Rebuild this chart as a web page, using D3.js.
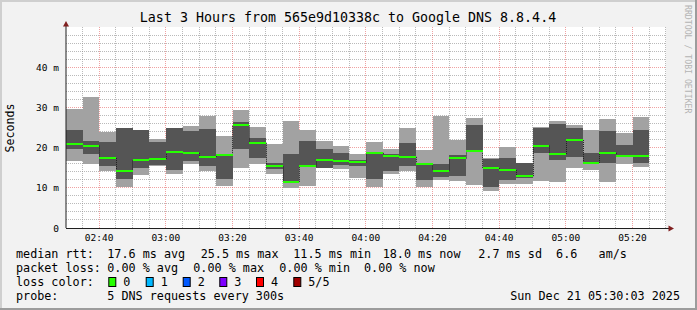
<!DOCTYPE html>
<html><head><meta charset="utf-8">
<script src="https://cdn.jsdelivr.net/npm/d3@7"></script>
<style>body{margin:0;background:#f2f2f2}svg{display:block}</style>
</head><body><svg id="c" width="697" height="310"></svg>
<script>
// ---- data (5-minute slots, start time of each slot) ----
const slots = ["02:30","02:35","02:40","02:45","02:50","02:55","03:00","03:05","03:10","03:15","03:20","03:25",
  "03:30","03:35","03:40","03:45","03:50","03:55","04:00","04:05","04:10","04:15","04:20","04:25",
  "04:30","04:35","04:40","04:45","04:50","04:55","05:00","05:05","05:10","05:15","05:20"];
// sorted pings (ms): max, 4th, median, 2nd, min
const maxVals    = [29.6,32.7,23.9,25.0,24.4,22.1,25.0,25.4,27.9,22.9,29.4,25.2,20.9,26.6,24.4,21.6,20.4,18.4,21.5,19.7,24.9,19.4,27.9,21.9,27.4,17.3,20.2,16.1,25.1,26.6,25.6,24.4,27.1,23.7,27.7];
const p4Vals     = [24.4,21.6,21.4,24.9,24.4,21.5,24.8,24.1,24.6,18.3,26.4,22.3,16.1,18.4,21.6,19.7,18.7,16.8,19.0,18.4,21.2,16.0,15.9,18.2,25.6,17.1,17.3,16.1,24.9,25.9,24.9,18.7,24.1,20.6,24.4];
const medianVals = [21.0,20.5,17.4,14.3,16.9,17.2,19.0,18.7,17.7,18.2,25.5,21.2,15.3,11.5,15.3,16.9,16.7,16.3,18.7,17.9,17.7,15.8,14.3,17.3,19.2,14.9,14.4,12.9,20.5,18.4,21.9,16.2,18.7,18.0,18.0];
const p2Vals     = [19.7,18.4,15.4,12.1,14.9,15.7,14.4,16.7,15.3,12.1,19.7,17.5,14.7,11.2,15.2,15.0,15.6,15.4,12.1,14.2,15.4,11.9,12.8,12.9,18.8,10.3,11.9,12.4,18.6,16.9,17.7,16.0,16.2,17.7,16.2];
const minVals    = [16.7,15.8,14.3,10.3,13.3,15.3,13.4,15.8,14.3,10.5,15.0,15.8,13.5,10.0,10.5,15.0,14.8,12.5,10.3,13.4,14.3,10.3,11.9,11.8,10.7, 9.3,10.9,11.0,11.6,11.4,15.0,14.4,11.4,15.9,15.2];
const yTicks = [0,10,20,30,40];
const yTickLabels = ["0","10 m","20 m","30 m","40 m"];
const xTickLabels = ["02:40","03:00","03:20","03:40","04:00","04:20","04:40","05:00","05:20"];
const lossLabels = ["0","1","2","3","4","5/5"];
const lossColors = ["#26ff00","#00b8ff","#0059ff","#7e00ff","#ff0000","#a00000"];

const toMin = s => { const [h,m] = s.split(":").map(Number); return h*60+m; };
const svg = d3.select("#c");
const W = 697, H = 310;
const mono = "DejaVu Sans Mono";

// background & frame
svg.append("rect").attr("width",W).attr("height",H).attr("fill","#f2f2f2");
svg.append("rect").attr("x",0).attr("y",0).attr("width",W).attr("height",2).attr("fill","#cfcfcf");
svg.append("rect").attr("x",0).attr("y",0).attr("width",2).attr("height",H).attr("fill","#cfcfcf");
svg.append("rect").attr("x",0).attr("y",H-2).attr("width",W).attr("height",2).attr("fill","#9c9c9c");
svg.append("rect").attr("x",W-2).attr("y",0).attr("width",2).attr("height",H).attr("fill","#9c9c9c");

const x0 = toMin("02:30")+0.05, x1 = toMin("05:30")+0.05;
const x = d3.scaleLinear().domain([x0,x1]).range([66,666]);
const y = d3.scaleLinear().domain([0,50]).range([228,27]);

// canvas
svg.append("rect").attr("x",66).attr("y",27).attr("width",600).attr("height",201).attr("fill","#ffffff");

// grid (below data)
const grid = svg.append("g");
const minorY = d3.range(2,50,2).filter(v=>v%10!==0);
grid.selectAll("line.hy").data(minorY).join("line")
  .attr("x1",66).attr("x2",666).attr("y1",v=>Math.floor(y(v))+0.5).attr("y2",v=>Math.floor(y(v))+0.5)
  .attr("stroke","rgba(140,140,140,0.6)").attr("stroke-dasharray","1,1");
const minorX = d3.range(toMin("02:35"),toMin("05:30")+1,5).filter(m=>m%20!==0);
grid.selectAll("line.vx").data(minorX).join("line")
  .attr("x1",m=>Math.floor(x(m))+0.5).attr("x2",m=>Math.floor(x(m))+0.5).attr("y1",27).attr("y2",228)
  .attr("stroke","rgba(140,140,140,0.6)").attr("stroke-dasharray","1,1");
grid.selectAll("line.my").data(yTicks.slice(1)).join("line")
  .attr("x1",66).attr("x2",666).attr("y1",v=>Math.floor(y(v))+0.5).attr("y2",v=>Math.floor(y(v))+0.5)
  .attr("stroke","rgba(225,70,70,0.5)").attr("stroke-dasharray","1,1");
grid.selectAll("line.mx").data(xTickLabels).join("line")
  .attr("x1",s=>Math.floor(x(toMin(s)))+0.5).attr("x2",s=>Math.floor(x(toMin(s)))+0.5).attr("y1",27).attr("y2",228)
  .attr("stroke","rgba(225,70,70,0.5)").attr("stroke-dasharray","1,1");

const plot = svg.append("g");
svg.append("clipPath").attr("id","pc").append("rect").attr("x",66).attr("y",27).attr("width",600).attr("height",201);
plot.attr("clip-path","url(#pc)");

const idx = d3.range(slots.length);
const bx = i => x(toMin(slots[i]));
const bx2 = i => x(toMin(slots[i])+5);

// smoke: outer band (min..max) and inner band (2nd..4th)
plot.selectAll("rect.outer").data(idx).join("rect")
  .attr("x",i=>bx(i)).attr("width",i=>bx2(i)-bx(i))
  .attr("y",i=>y(maxVals[i])).attr("height",i=>y(minVals[i])-y(maxVals[i]))
  .attr("fill","#a2a2a2").attr("shape-rendering","crispEdges");
plot.selectAll("rect.inner").data(idx).join("rect")
  .attr("x",i=>bx(i)).attr("width",i=>bx2(i)-bx(i))
  .attr("y",i=>y(p4Vals[i])).attr("height",i=>y(p2Vals[i])-y(p4Vals[i]))
  .attr("fill","#555555").attr("shape-rendering","crispEdges");

// median connectors
plot.selectAll("line.conn").data(idx.slice(1)).join("line")
  .attr("x1",i=>Math.round(bx(i))+0.5).attr("x2",i=>Math.round(bx(i))+0.5)
  .attr("y1",i=>y(medianVals[i-1])).attr("y2",i=>y(medianVals[i]))
  .attr("stroke","#202020").attr("stroke-width",1).attr("stroke-dasharray","1,1");
// median
plot.selectAll("line.med").data(idx).join("line")
  .attr("x1",i=>bx(i)).attr("x2",i=>bx2(i))
  .attr("y1",i=>Math.round(y(medianVals[i]))).attr("y2",i=>Math.round(y(medianVals[i])))
  .attr("stroke",lossColors[0]).attr("stroke-width",2).attr("shape-rendering","crispEdges");

// axes
svg.append("line").attr("x1",66).attr("x2",66).attr("y1",228).attr("y2",24).attr("stroke","#1f1f1f");
svg.append("line").attr("x1",66).attr("x2",670).attr("y1",228.5).attr("y2",228.5).attr("stroke","#1f1f1f");
svg.append("path").attr("d","M66,21 L63,26.5 L69,26.5 Z").attr("fill","#801f1f");
svg.append("path").attr("d","M674,228.5 L668.5,225.5 L668.5,231.5 Z").attr("fill","#801f1f");

// tick labels
svg.selectAll("text.yl").data(yTicks).join("text")
  .attr("x",59).attr("y",v=>y(v)+3.5).attr("text-anchor","end")
  .attr("font-family",mono).attr("font-size","9.5px").attr("fill","#000")
  .text((v,i)=>yTickLabels[i]);
svg.selectAll("text.xl").data(xTickLabels).join("text")
  .attr("x",s=>x(toMin(s))).attr("y",241).attr("text-anchor","middle")
  .attr("font-family",mono).attr("font-size","9.5px").attr("fill","#000")
  .text(s=>s);

// title
svg.append("text").attr("x",348).attr("y",22).attr("text-anchor","middle")
  .attr("font-family",mono).attr("font-size","13.3px").attr("fill","#000")
  .text("Last 3 Hours from 565e9d10338c to Google DNS 8.8.4.4");
// y label
svg.append("text").attr("transform","translate(14,128) rotate(-90)").attr("text-anchor","middle")
  .attr("font-family",mono).attr("font-size","11.6px").attr("fill","#000").text("Seconds");
// watermark
svg.append("text").attr("transform","translate(685,5) rotate(90)").attr("text-anchor","start")
  .attr("font-family",mono).attr("font-size","8.2px").attr("fill","#b4b4b4").text("RRDTOOL / TOBI OETIKER");

// legend
const leg = svg.append("g").attr("font-family",mono).attr("font-size","11.75px").attr("fill","#000");
const put = (tx,px,py,anchor) => leg.append("text").attr("x",px).attr("y",py).attr("text-anchor",anchor||"start").attr("xml:space","preserve").text(tx);
put("median rtt:",16,258);
put("17.6 ms avg",107.3,258); put("25.5 ms max",200.7,258); put("11.5 ms min",293.3,258);
put("18.0 ms now",382.7,258); put("2.7 ms sd  6.6   am/s",478.3,258);
put("packet loss:",16,272);
put("0.00 % avg",107.3,272); put("0.00 % max",193.3,272); put("0.00 % min",279.3,272); put("0.00 % now",364,272);
put("loss color:",16,286);
const boxX = [108.3,145.7,182.7,219.3,256,293.3];
lossLabels.forEach((l,i)=>{
  leg.append("rect").attr("x",boxX[i]+0.5).attr("y",277.5).attr("width",7).attr("height",9)
    .attr("fill",lossColors[i]).attr("stroke","#000").attr("stroke-width",1);
  put(l,boxX[i]+15,286);
});
put("probe:",16,300);
put("5 DNS requests every 300s",107.3,300);
put("Sun Dec 21 05:30:03 2025",680,300,"end");
</script></body></html>
